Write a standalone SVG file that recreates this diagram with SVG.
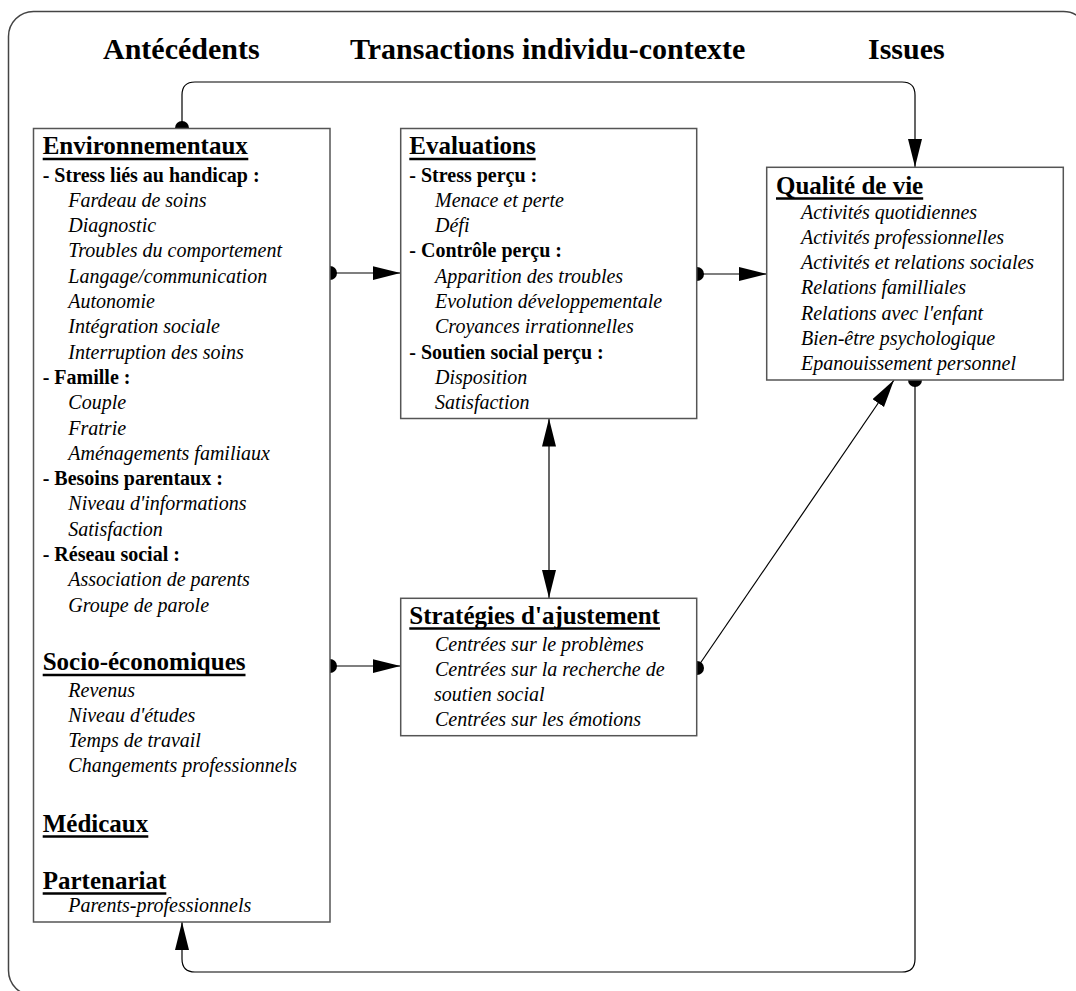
<svg xmlns="http://www.w3.org/2000/svg" width="1076" height="991" viewBox="0 0 1076 991">
<style>
.t{font-family:"Liberation Serif","Times New Roman",serif;fill:#000}
.title{font-size:30px;font-weight:bold}
.hd{font-size:25px;font-weight:bold}
.sb{font-size:20px;font-weight:bold}
.it{font-size:20px;font-style:italic}
.box{fill:#fff;stroke:#555;stroke-width:1.5}
.ul{stroke:#000;stroke-width:2.5}
.con{fill:none;stroke:#000;stroke-width:1.2}
</style>
<defs>
<marker id="arr" markerUnits="userSpaceOnUse" markerWidth="30" markerHeight="16" refX="28" refY="7" orient="auto-start-reverse" viewBox="0 0 30 16">
<path d="M0,0 L28,7 L0,14 z" fill="#000"/>
</marker>
<marker id="dot" markerUnits="userSpaceOnUse" markerWidth="16" markerHeight="16" refX="8" refY="8" viewBox="0 0 16 16">
<circle cx="8" cy="8" r="7" fill="#000"/>
</marker>
</defs>
<rect x="0" y="0" width="1076" height="991" fill="#fff"/>
<rect id="frame" x="8.5" y="11.5" width="1080" height="984" rx="25" ry="25" fill="none" stroke="#444" stroke-width="1.5"/>
<g id="headers" class="t">
<text class="title" x="103" y="59">Antécédents</text>
<text class="title" x="350" y="59">Transactions individu-contexte</text>
<text class="title" x="868" y="59">Issues</text>
</g>
<g id="connectors">
<path class="con" d="M182,128 V95 Q182,82 195,82 H902 Q915,82 915,95 V167" marker-start="url(#dot)" marker-end="url(#arr)"/>
<path class="con" d="M330,273 H400.5" marker-start="url(#dot)" marker-end="url(#arr)"/>
<path class="con" d="M697,274 H767" marker-start="url(#dot)" marker-end="url(#arr)"/>
<path class="con" d="M330,666 H400.5" marker-start="url(#dot)" marker-end="url(#arr)"/>
<path class="con" d="M549,418.5 V598" marker-start="url(#arr)" marker-end="url(#arr)"/>
<path class="con" d="M697,668 L894,380" marker-start="url(#dot)" marker-end="url(#arr)"/>
<path class="con" d="M915,380 V959 Q915,972 902,972 H195 Q182,972 182,959 V922" marker-start="url(#dot)" marker-end="url(#arr)"/>
</g>
<g id="antecedents">
<rect class="box" x="33.5" y="128.5" width="296.5" height="793.5"/>
<g class="t">
<text class="hd" x="42.7" y="154">Environnementaux</text>
<line class="ul" x1="42.7" y1="159" x2="248.3" y2="159"/>
<text class="sb" x="42.7" y="181.5">- Stress liés au handicap :</text>
<text class="it" x="68.3" y="206.8">Fardeau de soins</text>
<text class="it" x="68.3" y="232.1">Diagnostic</text>
<text class="it" x="68.3" y="257.4">Troubles du comportement</text>
<text class="it" x="68.3" y="282.7">Langage/communication</text>
<text class="it" x="68.3" y="308">Autonomie</text>
<text class="it" x="68.3" y="333.3">Intégration sociale</text>
<text class="it" x="68.3" y="358.6">Interruption des soins</text>
<text class="sb" x="42.7" y="383.9">- Famille :</text>
<text class="it" x="68.3" y="409.2">Couple</text>
<text class="it" x="68.3" y="434.5">Fratrie</text>
<text class="it" x="68.3" y="459.8">Aménagements familiaux</text>
<text class="sb" x="42.7" y="485.1">- Besoins parentaux :</text>
<text class="it" x="68.3" y="510.4">Niveau d'informations</text>
<text class="it" x="68.3" y="535.7">Satisfaction</text>
<text class="sb" x="42.7" y="561">- Réseau social :</text>
<text class="it" x="68.3" y="586.3">Association de parents</text>
<text class="it" x="68.3" y="611.6">Groupe de parole</text>
<text class="hd" x="42.7" y="670">Socio-économiques</text>
<line class="ul" x1="42.7" y1="675" x2="245.5" y2="675"/>
<text class="it" x="68.3" y="696.5">Revenus</text>
<text class="it" x="68.3" y="721.8">Niveau d'études</text>
<text class="it" x="68.3" y="747.1">Temps de travail</text>
<text class="it" x="68.3" y="772.4">Changements professionnels</text>
<text class="hd" x="42.7" y="831.5">Médicaux</text>
<line class="ul" x1="42.7" y1="836.5" x2="148.3" y2="836.5"/>
<text class="hd" x="42.7" y="888.5">Partenariat</text>
<line class="ul" x1="42.7" y1="893.5" x2="166.3" y2="893.5"/>
<text class="it" x="68.3" y="912">Parents-professionnels</text>
</g>
</g>
<g id="evaluations">
<rect class="box" x="400.7" y="128.5" width="296" height="290"/>
<g class="t">
<text class="hd" x="409.3" y="154">Evaluations</text>
<line class="ul" x1="409.3" y1="159" x2="535.7" y2="159"/>
<text class="sb" x="409.3" y="181.5">- Stress perçu :</text>
<text class="it" x="435" y="206.8">Menace et perte</text>
<text class="it" x="435" y="232.1">Défi</text>
<text class="sb" x="409.3" y="257.4">- Contrôle perçu :</text>
<text class="it" x="435" y="282.7">Apparition des troubles</text>
<text class="it" x="435" y="308">Evolution développementale</text>
<text class="it" x="435" y="333.3">Croyances irrationnelles</text>
<text class="sb" x="409.3" y="358.6">- Soutien social perçu :</text>
<text class="it" x="435" y="383.9">Disposition</text>
<text class="it" x="435" y="409.2">Satisfaction</text>
</g>
</g>
<g id="strategies">
<rect class="box" x="400.7" y="598.3" width="296" height="137.4"/>
<g class="t">
<text class="hd" x="409.3" y="623.5">Stratégies d'ajustement</text>
<line class="ul" x1="409.3" y1="628.5" x2="660" y2="628.5"/>
<text class="it" x="435" y="650.5">Centrées sur le problèmes</text>
<text class="it" x="435" y="675.8">Centrées sur la recherche de</text>
<text class="it" x="434" y="701.1">soutien social</text>
<text class="it" x="435" y="726.4">Centrées sur les émotions</text>
</g>
</g>
<g id="qualite">
<rect class="box" x="766.7" y="167.3" width="296.6" height="212.7"/>
<g class="t">
<text class="hd" x="776" y="193.5">Qualité de vie</text>
<line class="ul" x1="776" y1="198.5" x2="923.2" y2="198.5"/>
<text class="it" x="801" y="218.5">Activités quotidiennes</text>
<text class="it" x="801" y="243.8">Activités professionnelles</text>
<text class="it" x="801" y="269.1">Activités et relations sociales</text>
<text class="it" x="801" y="294.4">Relations familliales</text>
<text class="it" x="801" y="319.7">Relations avec l'enfant</text>
<text class="it" x="801" y="345">Bien-être psychologique</text>
<text class="it" x="801" y="370.3">Epanouissement personnel</text>
</g>
</g>
</svg>
